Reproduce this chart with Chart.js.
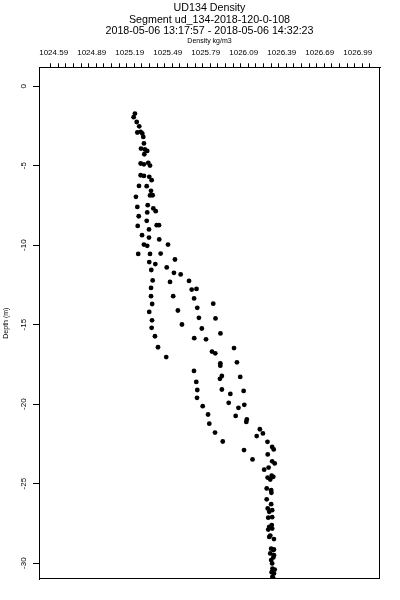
<!DOCTYPE html>
<html>
<head>
<meta charset="utf-8">
<title>UD134 Density</title>
<script src="https://cdn.jsdelivr.net/npm/chart.js@4"></script>
<style>
    html, body { margin: 0; padding: 0; background: #fff; }
    #wrap { width: 400px; height: 600px; }
</style>
</head>
<body>
<div id="wrap"><canvas id="densityChart"></canvas></div>
<script>
const titleLines = [
    "UD134 Density",
    "Segment ud_134-2018-120-0-108",
    "2018-05-06 13:17:57 - 2018-05-06 14:32:23",
]
const xAxisTitle = "Density kg/m3"
const yAxisTitle = "Depth (m)"
const xTickLabels = ["1024.59", "1024.89", "1025.19", "1025.49", "1025.79", "1026.09", "1026.39", "1026.69", "1026.99"]
const xMinorPerLabel = 5
const yTickValues = [0, -5, -10, -15, -20, -25, -30]

// density (kg/m3) and depth (m), same order
const density = [
    1025.255, 1025.245, 1025.269, 1025.289, 1025.274, 1025.300, 1025.313, 1025.321, 1025.326, 1025.303,
    1025.334, 1025.352, 1025.329, 1025.300, 1025.326, 1025.360, 1025.374, 1025.300, 1025.326, 1025.368,
    1025.387, 1025.287, 1025.348, 1025.382, 1025.395, 1025.374, 1025.263, 1025.274, 1025.356, 1025.400,
    1025.419, 1025.352, 1025.285, 1025.348, 1025.277, 1025.427, 1025.445, 1025.366, 1025.311, 1025.366,
    1025.447, 1025.516, 1025.326, 1025.352, 1025.281, 1025.374, 1025.458, 1025.571, 1025.368, 1025.416,
    1025.506, 1025.384, 1025.563, 1025.616, 1025.682, 1025.395, 1025.532, 1025.703, 1025.741, 1025.382,
    1025.382, 1025.557, 1025.722, 1025.873, 1025.391, 1025.747, 1025.368, 1025.594, 1025.891, 1025.760,
    1025.390, 1025.626, 1025.387, 1025.783, 1025.930, 1025.413, 1025.723, 1025.816, 1025.437, 1026.037,
    1025.863, 1025.889, 1025.502, 1025.929, 1025.929, 1026.060, 1025.721, 1025.941, 1025.926, 1026.086,
    1025.739, 1025.747, 1025.941, 1026.008, 1026.113, 1025.745, 1025.995, 1026.118, 1025.790, 1026.072,
    1025.832, 1026.050, 1026.138, 1026.134, 1025.842, 1026.241, 1026.265, 1025.887, 1026.216, 1025.948,
    1026.301, 1026.338, 1026.350, 1026.116, 1026.303, 1026.183, 1026.338, 1026.358, 1026.275, 1026.310,
    1026.334, 1026.347, 1026.302, 1026.323, 1026.295, 1026.330, 1026.332, 1026.295, 1026.330, 1026.303,
    1026.338, 1026.315, 1026.307, 1026.338, 1026.335, 1026.315, 1026.338, 1026.307, 1026.323, 1026.315,
    1026.352, 1026.330, 1026.352, 1026.347, 1026.323, 1026.352, 1026.347, 1026.330, 1026.338, 1026.340,
    1026.358, 1026.352, 1026.334, 1026.340, 1026.347,
]
const depth = [
    -1.72, -1.95, -2.25, -2.52, -2.91, -2.87, -2.97, -3.19, -3.60, -3.92,
    -3.98, -4.07, -4.28, -4.86, -4.91, -4.82, -4.99, -5.60, -5.64, -5.70,
    -5.91, -6.27, -6.29, -6.58, -6.86, -6.87, -6.96, -7.59, -7.48, -7.69,
    -7.86, -7.94, -8.18, -8.47, -8.79, -8.74, -8.74, -9.01, -9.37, -9.52,
    -9.64, -9.96, -9.96, -10.04, -10.55, -10.55, -10.53, -10.90, -11.06, -11.19,
    -11.40, -11.56, -11.74, -11.84, -12.25, -12.22, -12.31, -12.79, -12.75, -12.69,
    -13.21, -13.21, -13.35, -13.68, -13.70, -13.94, -14.20, -14.11, -14.61, -14.57,
    -14.73, -14.99, -15.20, -15.24, -15.55, -15.73, -15.85, -15.92, -16.42, -16.47,
    -16.69, -16.80, -17.04, -17.43, -17.58, -17.37, -17.91, -18.23, -18.41, -18.29,
    -18.60, -19.11, -19.08, -19.36, -19.17, -19.60, -19.92, -20.04, -20.13, -20.23,
    -20.65, -20.74, -20.96, -21.12, -21.23, -21.58, -21.84, -21.79, -22.01, -22.35,
    -22.37, -22.69, -22.85, -22.89, -23.16, -23.48, -23.60, -23.73, -24.12, -23.99,
    -24.50, -24.57, -24.62, -24.74, -25.30, -25.41, -25.58, -25.99, -26.29, -26.56,
    -26.67, -26.77, -27.14, -27.11, -27.61, -27.72, -27.83, -27.89, -28.27, -28.35,
    -28.49, -29.09, -29.14, -29.18, -29.39, -29.50, -29.64, -29.81, -30.02, -30.35,
    -30.41, -30.65, -30.57, -30.86, -30.96,
]

const FONT = "'Liberation Sans', Arial, Helvetica, sans-serif"

// R style box round the plot region
const plotBox = {
    id: "plotBox",
    afterDatasetsDraw(chart) {
        const { ctx, chartArea } = chart
        const l = Math.round(chartArea.left) + 0.5
        const t = Math.round(chartArea.top) + 0.5
        const r = Math.round(chartArea.right) - 0.5
        const b = Math.round(chartArea.bottom) - 0.5
        ctx.save()
        ctx.strokeStyle = "#000"
        ctx.lineWidth = 1
        ctx.strokeRect(l, t, r - l, b - t)
        ctx.restore()
    },
}

const points = density.map((d, i) => ({ x: d, y: depth[i] }))

new Chart(document.getElementById("densityChart"), {
    type: "scatter",
    data: {
        datasets: [
            {
                data: points,
                pointStyle: "circle",
                pointRadius: 2.4,
                pointBorderWidth: 0,
                backgroundColor: "#000",
                borderColor: "#000",
            },
        ],
    },
    options: {
        responsive: true,
        maintainAspectRatio: false,
        animation: false,
        events: [],
        layout: {
            padding: { top: 0, right: 20, bottom: 21, left: 0 },
        },
        plugins: {
            legend: { display: false },
            tooltip: { enabled: false },
            title: {
                display: true,
                fullSize: false,
                text: titleLines,
                color: "#000",
                font: { family: FONT, size: 10.7, weight: "normal", lineHeight: 1.1 },
                padding: { top: 2, bottom: 0 },
            },
        },
        scales: {
            x: {
                type: "linear",
                position: "top",
                min: 1024.498,
                max: 1027.189,
                afterBuildTicks: (scale) => {
                    const start = parseFloat(xTickLabels[0])
                    const step = (parseFloat(xTickLabels[1]) - start) / xMinorPerLabel
                    const count = (xTickLabels.length - 1) * xMinorPerLabel + 2
                    const ticks = []
                    for (let i = 0; i <= count; i++) {
                        ticks.push({ value: +(start + i * step).toFixed(2) })
                    }
                    scale.ticks = ticks
                },
                afterFit: (scale) => {
                    scale.height = 30
                },
                ticks: {
                    autoSkip: false,
                    maxRotation: 0,
                    minRotation: 0,
                    padding: 6,
                    labelOffset: 3,
                    color: "#000",
                    font: { family: FONT, size: 8 },
                    callback: (v) => {
                        const s = Number(v).toFixed(2)
                        return xTickLabels.includes(s) ? s : ""
                    },
                },
                grid: {
                    display: true,
                    drawOnChartArea: false,
                    drawTicks: true,
                    tickLength: 4,
                    color: "#000",
                },
                border: { display: true, color: "#000" },
                title: {
                    display: true,
                    text: xAxisTitle,
                    color: "#000",
                    font: { family: FONT, size: 7 },
                    padding: { top: 0, bottom: 0 },
                },
            },
            y: {
                type: "linear",
                position: "left",
                min: -31.0,
                max: 1.19,
                afterBuildTicks: (scale) => {
                    scale.ticks = yTickValues.map((v) => ({ value: v }))
                },
                afterFit: (scale) => {
                    scale.width = 39
                },
                ticks: {
                    autoSkip: false,
                    minRotation: 90,
                    maxRotation: 90,
                    crossAlign: "center",
                    padding: 3,
                    color: "#000",
                    font: { family: FONT, size: 8 },
                },
                grid: {
                    display: true,
                    drawOnChartArea: false,
                    drawTicks: true,
                    tickLength: 6,
                    color: "#000",
                },
                border: { display: true, color: "#000" },
                title: {
                    display: true,
                    text: yAxisTitle,
                    color: "#000",
                    font: { family: FONT, size: 7 },
                    padding: { top: 2, bottom: 0 },
                },
            },
        },
    },
    plugins: [plotBox],
})
</script>
</body>
</html>
